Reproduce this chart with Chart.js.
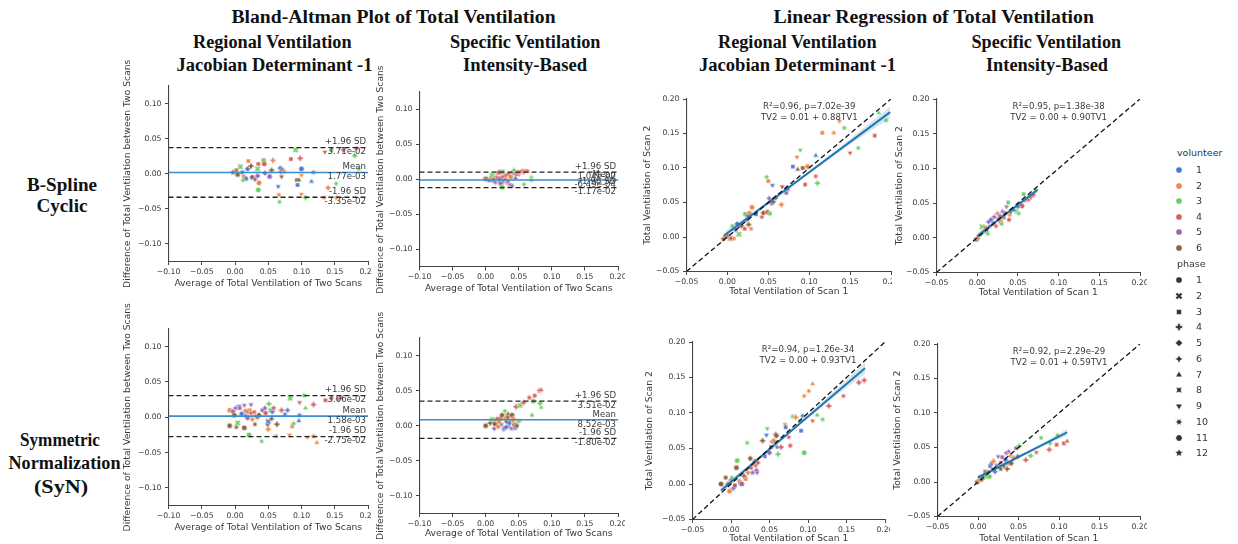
<!DOCTYPE html>
<html><head><meta charset="utf-8">
<script src="https://cdn.jsdelivr.net/npm/chart.js@4/dist/chart.umd.min.js"></script>
<style>
html,body{margin:0;padding:0;background:#fff;width:1238px;height:544px;overflow:hidden;position:relative;}
.wrap{position:absolute;overflow:hidden;}
.wrap canvas{position:absolute;}
.ttl{position:absolute;font-family:"Liberation Serif","Times New Roman",serif;font-weight:bold;font-size:18px;color:#111;white-space:nowrap;line-height:1;}
.leg{position:absolute;font-family:"DejaVu Sans",sans-serif;font-size:9.5px;color:#333;line-height:1;white-space:nowrap;}
.legm{position:absolute;}
</style></head><body>
<script>
// ---------------- DATA ----------------
const palette = ['#4878d0','#ee854a','#6acc64','#d65f5f','#956cb4','#8c613c'];
const volunteerLabels = ['1','2','3','4','5','6'];
const phaseLabels = ['1','2','3','4','5','6','7','8','9','10','11','12'];

const baXTicks = [-0.10,-0.05,0.00,0.05,0.10,0.15,0.20];
const baYTicks = [-0.10,-0.05,0.00,0.05,0.10];
const lrTicks  = [-0.05,0.00,0.05,0.10,0.15,0.20];
const identityLine = [-0.05, 0.20];

// Bland-Altman statistics: [B-Spline regional, B-Spline specific, SyN regional, SyN specific]
const baMean  = [0.00177, -0.000649, 0.00158, 0.00852];
const baUpper = [0.0371, 0.0104, 0.0306, 0.0351];
const baLower = [-0.0335, -0.0117, -0.0275, -0.0180];

// Regression statistics: [B-Spline regional, B-Spline specific, SyN regional, SyN specific]
const lrStatR  = ['R\u00b2=0.96, p=7.02e-39','R\u00b2=0.95, p=1.38e-38','R\u00b2=0.94, p=1.26e-34','R\u00b2=0.92, p=2.29e-29'];
const lrStatEq = ['TV2 = 0.01 + 0.88TV1','TV2 = 0.00 + 0.90TV1','TV2 = 0.00 + 0.93TV1','TV2 = 0.01 + 0.59TV1'];
const lrRegX = [[-0.002,0.199],[0.000,0.074],[-0.013,0.174],[0.000,0.110]];
const lrRegY = [[0.004,0.181],[0.0025,0.069],[-0.009,0.163],[0.0065,0.072]];
const lrBandX  = [[-0.002,0.05,0.10,0.15,0.199],[0.000,0.037,0.074],[-0.013,0.04,0.08,0.13,0.174],[0.000,0.04,0.08,0.110]];
const lrBandHi = [[0.009,0.052,0.096,0.142,0.189],[0.005,0.037,0.071],[-0.004,0.042,0.079,0.127,0.171],[0.0095,0.032,0.056,0.077]];
const lrBandLo = [[-0.001,0.047,0.092,0.134,0.172],[-0.001,0.034,0.066],[-0.014,0.038,0.075,0.119,0.155],[0.0035,0.028,0.052,0.067]];

// Panel: Bland-Altman, B-Spline Cyclic, Regional Ventilation
const baBsRegX = [-0.003,0.002,0.004,0.008,0.011,0.013,0.016,0.012,0.019,0.020,0.024,0.026,0.030,0.034,0.034,0.035,0.035,0.036,0.043,0.044,0.045,0.052,0.055,0.057,0.065,0.066,0.067,0.068,0.069,0.070,0.071,0.074,0.084,0.091,0.093,0.094,0.096,0.098,0.100,0.100,0.100,0.106,0.115,0.118,0.134,0.135,0.140,0.145,0.152,0.153,0.163,0.180,0.183,0.186];
const baBsRegY = [0.002,0.005,-0.001,0.010,0.002,-0.004,-0.007,-0.009,0.007,0.018,0.011,-0.005,-0.008,-0.003,0.007,0.014,-0.023,-0.013,0.019,0.014,0.001,-0.004,0.005,0.019,-0.018,-0.030,-0.040,0.008,0.003,-0.004,0.006,0.003,0.021,0.034,-0.009,-0.016,-0.009,0.022,0.007,-0.002,-0.029,-0.034,-0.011,0.002,-0.034,0.031,-0.020,0.034,-0.014,-0.034,0.034,0.026,0.036,0.007];
const baBsRegVol = [6,4,6,3,1,2,1,3,1,2,6,6,5,5,3,4,3,2,3,4,5,5,6,2,1,2,3,5,4,6,1,2,4,3,6,1,6,4,1,2,2,3,1,1,2,4,2,3,3,2,4,3,4,3];
const baBsRegPhase = [12,3,1,2,3,3,11,10,5,3,4,1,6,5,2,3,11,11,11,11,5,11,4,4,9,10,10,5,6,9,6,10,3,2,3,3,7,4,11,9,9,4,7,10,10,9,4,3,10,12,12,5,10,10];

// Panel: Bland-Altman, B-Spline Cyclic, Specific Ventilation
const baBsSpecX = [0.000,0.003,0.006,0.008,0.010,0.012,0.013,0.015,0.016,0.018,0.020,0.022,0.023,0.025,0.025,0.026,0.028,0.030,0.031,0.032,0.034,0.035,0.037,0.038,0.040,0.042,0.043,0.045,0.045,0.048,0.050,0.052,0.055,0.058,0.060,0.058,0.063,0.069,0.069,0.020];
const baBsSpecY = [0.001,0.000,-0.001,0.003,0.006,-0.002,0.001,-0.004,0.004,0.002,-0.003,0.001,-0.006,0.011,-0.011,0.004,-0.002,0.000,0.006,-0.005,-0.003,0.008,-0.008,0.004,-0.009,0.010,0.013,0.002,0.009,0.008,0.011,0.010,0.012,0.011,0.012,-0.007,0.012,0.003,-0.001,0.010];
const baBsSpecVol = [6,6,1,2,3,5,6,5,2,4,2,1,5,3,3,4,5,6,4,2,5,4,5,2,5,6,3,1,4,4,4,4,4,4,4,3,2,3,3,4];
const baBsSpecPhase = [1,12,3,3,2,5,4,6,4,3,10,5,11,2,11,4,5,9,6,9,7,12,3,11,10,4,4,7,9,2,3,10,12,4,7,10,3,10,7,1];

// Panel: Bland-Altman, SyN, Regional Ventilation
const baSynRegX = [-0.008,-0.008,-0.003,-0.001,0.001,0.006,0.007,0.010,0.002,0.004,0.014,0.014,0.016,0.016,0.019,0.020,0.021,0.022,0.024,0.024,0.026,0.029,0.030,0.031,0.034,0.036,0.040,0.041,0.045,0.046,0.049,0.050,0.050,0.051,0.053,0.055,0.056,0.058,0.062,0.063,0.070,0.075,0.079,0.082,0.083,0.086,0.088,0.097,0.097,0.096,0.104,0.106,0.109,0.118,0.118,0.123,0.136,0.145,0.155,0.159];
const baSynRegY = [0.010,-0.012,0.008,0.003,0.013,0.016,0.013,0.005,-0.014,-0.008,-0.015,0.017,0.009,0.002,-0.001,0.008,-0.025,0.010,0.018,0.006,-0.003,0.007,-0.010,0.002,0.000,0.003,-0.034,0.010,0.013,0.006,-0.011,-0.006,-0.017,0.019,0.010,-0.002,0.008,0.013,-0.027,-0.010,0.010,0.004,0.010,-0.025,0.027,-0.013,-0.009,0.021,0.003,-0.005,0.031,0.013,-0.028,0.018,-0.027,-0.036,0.024,0.027,0.026,0.027];
const baSynRegVol = [2,6,5,6,5,5,5,1,6,3,6,5,2,1,5,6,3,2,5,4,2,4,6,2,6,6,3,5,5,4,6,1,2,3,3,6,1,4,3,6,4,1,1,2,3,2,3,4,1,1,3,3,2,4,2,2,4,4,4,4];
const baSynRegPhase = [1,11,5,1,6,9,3,5,10,2,11,9,1,6,5,4,11,3,9,10,12,3,10,4,6,5,10,3,6,5,9,2,4,4,3,6,4,12,10,4,4,10,6,9,2,3,6,9,10,7,3,7,9,4,12,7,3,12,10,7];

// Panel: Bland-Altman, SyN, Specific Ventilation
const baSynSpecX = [0.000,0.007,0.010,0.013,0.014,0.016,0.019,0.022,0.024,0.025,0.027,0.029,0.030,0.032,0.034,0.035,0.037,0.038,0.039,0.040,0.042,0.043,0.044,0.046,0.048,0.051,0.052,0.057,0.066,0.070,0.072,0.074,0.081,0.084,0.084,0.082,0.020,0.028,0.033,0.036,0.041,0.018,0.045,0.031,0.047];
const baSynSpecY = [0.000,0.004,0.009,-0.004,0.003,0.008,-0.001,0.010,0.002,0.015,-0.005,0.021,0.011,0.006,0.016,-0.001,0.008,0.014,-0.004,0.015,0.010,0.002,-0.004,0.027,0.005,0.007,0.029,0.033,0.040,0.015,0.035,0.043,0.050,0.026,0.051,0.032,0.006,-0.003,0.012,0.004,0.007,0.010,-0.002,-0.002,0.000];
const baSynSpecVol = [6,6,3,5,6,2,2,6,5,6,5,3,2,6,6,5,2,6,5,6,2,6,5,4,2,3,3,4,4,3,3,4,4,3,4,3,2,5,6,1,2,4,5,1,6];
const baSynSpecPhase = [11,4,2,6,11,3,5,4,9,11,6,10,3,5,4,12,3,6,10,11,12,3,7,4,10,10,2,4,12,10,11,3,12,7,7,4,1,3,10,3,9,3,5,6,12];

// Panel: Linear regression, B-Spline Cyclic, Regional Ventilation (scan 1, scan 2)
const lrBsRegX = [-0.005,-0.002,0.001,0.003,0.005,0.006,0.008,0.010,0.012,0.014,0.017,0.021,0.022,0.024,0.025,0.026,0.027,0.029,0.030,0.035,0.042,0.044,0.048,0.049,0.050,0.051,0.052,0.054,0.055,0.056,0.059,0.066,0.067,0.072,0.073,0.074,0.080,0.085,0.086,0.089,0.092,0.095,0.098,0.108,0.108,0.110,0.116,0.130,0.137,0.143,0.150,0.160,0.180,0.185,0.194];
const lrBsRegY = [-0.003,0.002,0.001,-0.002,-0.002,0.016,-0.002,0.010,0.019,0.004,0.016,0.012,0.033,0.025,0.031,0.018,0.035,0.012,0.043,0.033,0.029,0.035,0.087,0.036,0.081,0.056,0.034,0.049,0.075,0.051,0.057,0.047,0.073,0.064,0.071,0.069,0.102,0.116,0.098,0.126,0.100,0.076,0.102,0.118,0.088,0.078,0.151,0.151,0.168,0.158,0.122,0.129,0.147,0.180,0.169];
const lrBsRegVol = [6,6,5,2,6,3,2,5,1,3,6,4,3,5,5,6,2,2,2,1,4,6,3,4,2,5,3,5,1,6,5,2,6,5,5,5,1,2,6,3,6,4,2,1,4,3,2,2,2,3,4,3,4,3,3];
const lrBsRegPhase = [12,1,5,2,3,10,8,6,5,2,4,3,11,6,5,4,3,10,11,3,10,5,10,11,3,6,3,5,9,4,5,4,9,3,5,7,3,9,7,9,3,3,11,7,10,4,3,10,9,10,9,10,3,7,10];

// Panel: Linear regression, B-Spline Cyclic, Specific Ventilation
const lrBsSpecX = [-0.001,0.001,0.004,0.006,0.008,0.010,0.011,0.013,0.014,0.016,0.017,0.020,0.021,0.023,0.025,0.026,0.028,0.029,0.030,0.031,0.033,0.034,0.036,0.038,0.039,0.040,0.041,0.048,0.051,0.055,0.057,0.059,0.063,0.066,0.069,0.072,0.050,0.045];
const lrBsSpecY = [-0.002,0.000,0.005,0.016,0.009,0.015,0.010,0.006,0.023,0.017,0.026,0.021,0.030,0.017,0.035,0.027,0.031,0.023,0.020,0.038,0.029,0.035,0.045,0.051,0.026,0.033,0.038,0.038,0.035,0.046,0.063,0.054,0.055,0.059,0.062,0.069,0.045,0.040];
const lrBsSpecVol = [6,2,3,3,2,2,1,3,1,2,5,1,5,4,2,6,5,2,3,5,2,5,5,3,4,2,6,3,3,4,3,2,4,4,4,3,1,1];
const lrBsSpecPhase = [1,3,10,2,4,3,5,10,6,9,5,3,6,10,4,9,3,11,10,7,3,5,9,3,12,10,4,4,10,11,3,12,10,4,12,10,6,7];

// Panel: Linear regression, SyN, Regional Ventilation
const lrSynRegX = [-0.013,-0.007,-0.004,-0.002,0.000,0.001,0.003,0.005,0.007,0.008,0.011,0.012,0.014,0.017,0.019,0.021,0.022,0.025,0.026,0.028,0.029,0.031,0.032,0.033,0.034,0.035,0.041,0.044,0.046,0.047,0.050,0.052,0.054,0.056,0.058,0.059,0.060,0.061,0.065,0.070,0.071,0.075,0.077,0.080,0.084,0.090,0.091,0.093,0.095,0.095,0.101,0.106,0.106,0.112,0.119,0.127,0.146,0.166,0.173];
const lrSynRegY = [0.000,0.009,0.000,-0.010,0.006,0.009,-0.006,-0.002,0.023,0.033,0.004,0.001,0.000,0.011,0.007,0.058,0.016,0.036,0.023,0.016,0.028,0.032,0.026,0.019,0.016,0.030,0.061,0.039,0.069,0.078,0.044,0.052,0.060,0.061,0.070,0.068,0.052,0.042,0.052,0.084,0.080,0.066,0.054,0.095,0.094,0.089,0.075,0.096,0.044,0.124,0.131,0.089,0.141,0.097,0.091,0.110,0.124,0.143,0.146];
const lrSynRegVol = [6,6,2,2,5,3,5,6,6,3,2,5,5,6,2,3,2,6,4,5,2,6,4,5,5,4,6,5,1,3,5,6,6,2,6,6,1,3,4,2,1,4,4,3,2,3,1,1,3,2,2,4,2,3,3,4,4,4,4];
const lrSynRegPhase = [11,3,5,11,6,10,4,3,11,11,5,3,11,4,3,10,4,5,3,12,4,6,10,5,9,6,4,3,9,9,5,3,4,4,6,5,10,4,4,9,3,10,12,10,4,3,3,10,11,10,10,9,7,7,10,4,10,4,4];

// Panel: Linear regression, SyN, Specific Ventilation
const lrSynSpecX = [-0.001,0.001,0.003,0.005,0.008,0.009,0.010,0.012,0.014,0.015,0.017,0.018,0.019,0.021,0.023,0.025,0.028,0.028,0.030,0.032,0.034,0.035,0.036,0.037,0.038,0.040,0.041,0.044,0.047,0.049,0.051,0.059,0.065,0.072,0.078,0.088,0.089,0.097,0.098,0.106,0.110];
const lrSynSpecY = [0.000,0.002,0.007,0.004,0.009,0.015,0.008,0.014,0.008,0.023,0.027,0.019,0.030,0.015,0.024,0.037,0.028,0.019,0.036,0.023,0.032,0.042,0.019,0.027,0.044,0.038,0.027,0.035,0.049,0.037,0.052,0.032,0.038,0.043,0.064,0.047,0.056,0.054,0.068,0.056,0.059];
const lrSynSpecVol = [6,2,3,6,2,6,3,2,3,1,5,6,2,1,1,5,2,6,5,6,1,5,6,2,5,2,6,2,5,6,3,4,3,4,3,4,3,4,3,4,4];
const lrSynSpecPhase = [1,3,10,4,5,3,2,4,11,3,5,9,4,6,10,9,3,12,3,10,5,6,4,3,7,10,5,4,3,6,4,4,4,9,10,4,10,3,7,3,7];

// ---------------- MARKERS ----------------
function polyPath(g, pts){ g.beginPath(); pts.forEach((p,i)=> i ? g.lineTo(p[0],p[1]) : g.moveTo(p[0],p[1])); g.closePath(); }
function regPts(n, r, rot){ const a0=-Math.PI/2 - rot*Math.PI/180; const o=[]; for(let i=0;i<n;i++){const a=a0+i*2*Math.PI/n; o.push([r*Math.cos(a), r*Math.sin(a)]);} return o; }
function starPts(n, r, inner, rot){ const a0=-Math.PI/2 - rot*Math.PI/180; const o=[]; for(let i=0;i<2*n;i++){const a=a0+i*Math.PI/n; const rr=i%2? r*inner : r; o.push([rr*Math.cos(a), rr*Math.sin(a)]);} return o; }
function plusPts(r, a, rot){ const p=[[-a,-r],[a,-r],[a,-a],[r,-a],[r,a],[a,a],[a,r],[-a,r],[-a,a],[-r,a],[-r,-a],[-a,-a]]; const c=Math.cos(rot), s=Math.sin(rot); return p.map(([x,y])=>[x*c-y*s, x*s+y*c]); }
function markerPath(g, phase, r){
  switch(phase){
    case 1: g.beginPath(); g.arc(0,0,r,0,Math.PI*2); break;
    case 2: polyPath(g, plusPts(r*1.2, r*0.4, Math.PI/4)); break;
    case 3: polyPath(g, regPts(4, r*1.1, 45)); break;
    case 4: polyPath(g, plusPts(r*1.1, r*0.4, 0)); break;
    case 5: polyPath(g, regPts(4, r*1.15, 0)); break;
    case 6: polyPath(g, starPts(4, r*1.25, 0.5, 0)); break;
    case 7: polyPath(g, regPts(3, r*1.2, 0)); break;
    case 8: polyPath(g, starPts(4, r*1.25, 0.5, 45)); break;
    case 9: polyPath(g, regPts(3, r*1.2, 180)); break;
    case 10: polyPath(g, starPts(6, r*1.2, 0.5, 30)); break;
    case 11: polyPath(g, regPts(6, r*1.1, 30)); break;
    default: polyPath(g, starPts(5, r*1.3, 0.5, 0)); break;
  }
}
const mcache = {};
function markerImg(phase, color, r){
  const k = phase+'|'+color+'|'+r;
  if (mcache[k]) return mcache[k];
  const s = Math.ceil(r*1.4)*2 + 2;
  const c = document.createElement('canvas'); c.width = s; c.height = s;
  const g = c.getContext('2d'); g.translate(s/2, s/2);
  markerPath(g, phase, r);
  g.fillStyle = color; g.fill();
  g.lineWidth = 0.5; g.strokeStyle = 'rgba(255,255,255,0.85)'; g.stroke();
  mcache[k] = c; return c;
}

// ---------------- HELPERS ----------------
const FONT = "'DejaVu Sans', sans-serif";
const TXT = '#3a3a3a';
const AXC = '#444';
function fmtTick(v){ return (v < -1e-9 ? '\u2212' : '') + Math.abs(v).toFixed(2); }
function sci(v){ const parts = v.toExponential(2).split('e'); const e = parseInt(parts[1],10); return parts[0] + 'e' + (e<0?'-':'+') + String(Math.abs(e)).padStart(2,'0'); }
function pts(X, Y){ return X.map((x,i)=>({x:x, y:Y[i]})); }

function scatterSet(X, Y, V, P){
  return {type:'scatter', data: pts(X,Y), order: 5, pointRadius: 3,
    pointStyle: ctx => markerImg(P[ctx.dataIndex] || 1, palette[(V[ctx.dataIndex] || 1) - 1], 2.6)};
}
function baDatasets(i, X, Y, V, P){
  const xr = [baXTicks[0], baXTicks[baXTicks.length-1]];
  return [
    {type:'line', data:[{x:xr[0],y:baUpper[i]},{x:xr[1],y:baUpper[i]}], borderColor:'#222', borderWidth:1.3, borderDash:[5,3], pointRadius:0, order:0},
    {type:'line', data:[{x:xr[0],y:baLower[i]},{x:xr[1],y:baLower[i]}], borderColor:'#222', borderWidth:1.3, borderDash:[5,3], pointRadius:0, order:0},
    {type:'line', data:[{x:xr[0],y:baMean[i]},{x:xr[1],y:baMean[i]}], borderColor:'#3a8dd0', borderWidth:1.6, pointRadius:0, order:1},
    scatterSet(X, Y, V, P)
  ];
}
function lrDatasets(i, X, Y, V, P){
  return [
    {type:'line', data: identityLine.map(v=>({x:v,y:v})), borderColor:'#111', borderWidth:1.3, borderDash:[5,3], pointRadius:0, order:0},
    {type:'line', data: pts(lrRegX[i], lrRegY[i]), borderColor:'#1f77b4', borderWidth:2, pointRadius:0, order:1},
    {type:'line', data: pts(lrBandX[i], lrBandHi[i]), borderWidth:0, borderColor:'rgba(0,0,0,0)', pointRadius:0, fill:'+1', backgroundColor:'rgba(31,119,180,0.18)', tension:0.3, order:2},
    {type:'line', data: pts(lrBandX[i], lrBandLo[i]), borderWidth:0, borderColor:'rgba(0,0,0,0)', pointRadius:0, fill:false, tension:0.3, order:2},
    scatterSet(X, Y, V, P)
  ];
}
function baAnno(i){
  return c => {
    const g = c.ctx, a = c.chartArea, y = c.scales.y;
    g.save(); g.font = '8.6px ' + FONT; g.fillStyle = TXT; g.textAlign = 'right'; g.textBaseline = 'middle';
    const xr = a.right - 2;
    [[baUpper[i],'+1.96 SD'],[baMean[i],'Mean'],[baLower[i],'-1.96 SD']].forEach(([v,lab]) => {
      const py = y.getPixelForValue(v);
      g.fillText(lab, xr, py - 5.5);
      g.fillText(sci(v), xr, py + 4.5);
    });
    g.restore();
  };
}
function lrAnno(i){
  return c => {
    const g = c.ctx, a = c.chartArea, x = c.scales.x;
    g.save(); g.font = '8.6px ' + FONT; g.fillStyle = TXT; g.textAlign = 'center'; g.textBaseline = 'middle';
    const cx = x.getPixelForValue(0.10);
    g.fillText(lrStatR[i], cx, a.top + 8);
    g.fillText(lrStatEq[i], cx, a.top + 18.5);
    g.restore();
  };
}

function buildChart(p){
  const pt = p.pt, pr = 14;
  let cw = p.YW + p.W + pr, ch = pt + p.H + p.XH;
  const wrap = document.createElement('div'); wrap.className = 'wrap';
  wrap.style.left = p.clip[0]+'px'; wrap.style.top = p.clip[1]+'px';
  wrap.style.width = (p.clip[2]-p.clip[0])+'px'; wrap.style.height = (p.clip[3]-p.clip[1])+'px';
  document.body.appendChild(wrap);
  const axis = (min, max, ticks, title, isX) => ({
    type:'linear', min:min, max:max,
    afterBuildTicks: s => { s.ticks = ticks.map(v => ({value:v})); },
    afterFit: s => { if (isX) s.height = p.XH; else s.width = p.YW; },
    ticks: {callback: v => fmtTick(v), font:{family:FONT, size:7.7}, color:TXT, padding: isX ? 2 : 3.5, maxRotation:0, autoSkip:false},
    grid: {display:true, drawOnChartArea:false, drawTicks:true, tickLength:3.5, color:AXC, lineWidth:1},
    border: {display:true, color:AXC, width:1.1},
    title: {display:true, text:title, font:{family:FONT, size:9.2}, color:TXT, padding:0}
  });
  const cfg = () => ({
    type:'scatter',
    data:{datasets: p.datasets()},
    options:{responsive:false, maintainAspectRatio:false, animation:false, devicePixelRatio:1, events:[],
      layout:{padding:{left:0, top:pt, right:pr, bottom:0}},
      plugins:{legend:{display:false}, tooltip:{enabled:false}},
      scales:{x: axis(p.xr[0], p.xr[1], p.xt, p.xTitle, true), y: axis(p.yr[0], p.yr[1], p.yt, p.yTitle, false)}
    },
    plugins:[{id:'anno'+p.id, afterDatasetsDraw: c => p.anno(c)}]
  });
  for (let pass = 0; pass < 3; pass++){
    const cv = document.createElement('canvas');
    cv.width = Math.round(cw); cv.height = Math.round(ch);
    cv.style.width = cv.width+'px'; cv.style.height = cv.height+'px';
    wrap.appendChild(cv);
    const chart = new Chart(cv, cfg());
    const ca = chart.chartArea;
    const dw = p.W - (ca.right - ca.left), dh = p.H - (ca.bottom - ca.top);
    if (pass < 2 && (Math.abs(dw) > 0.6 || Math.abs(dh) > 0.6)) {
      chart.destroy(); wrap.removeChild(cv); cw += dw; ch += dh; continue;
    }
    cv.style.left = Math.round(p.L - ca.left - p.clip[0]) + 'px';
    cv.style.top = Math.round(p.T - ca.top - p.clip[1]) + 'px';
    break;
  }
}

// ---------------- TITLES ----------------
const titles = [
  ['Bland-Altman Plot of Total Ventilation', 393, 17, 324],
  ['Linear Regression of Total Ventilation', 933, 17, 320],
  ['Regional Ventilation', 272, 42, 159],
  ['Jacobian Determinant -1', 274, 65, 196],
  ['Specific Ventilation', 525, 42, 151],
  ['Intensity-Based', 525, 65, 124],
  ['Regional Ventilation', 797, 42, 159],
  ['Jacobian Determinant -1', 797, 65, 197],
  ['Specific Ventilation', 1046, 42, 150],
  ['Intensity-Based', 1047, 65, 122],
  ['B-Spline', 62, 185, 70],
  ['Cyclic', 62, 206, 51],
  ['Symmetric', 60, 440, 80],
  ['Normalization', 64, 463, 112],
  ['(SyN)', 61, 487, 54]
];
titles.forEach(([t, cx, cy, w]) => {
  const d = document.createElement('div'); d.className = 'ttl'; d.textContent = t;
  document.body.appendChild(d);
  const ow = d.offsetWidth, oh = d.offsetHeight;
  const k = w / ow;
  d.style.left = (cx - ow/2) + 'px'; d.style.top = (cy - oh/2) + 'px';
  d.style.transform = 'scaleX(' + k.toFixed(3) + ')';
});

// ---------------- PANELS ----------------
const baYT = 'Difference of Total Ventilation between Two Scans';
const baXT = 'Average of Total Ventilation of Two Scans';
const lrYT = 'Total Ventilation of Scan 2';
const lrXT = 'Total Ventilation of Scan 1';
const baXR = [baXTicks[0], baXTicks[baXTicks.length-1]];
const baYR = [-0.125, 0.125];
const lrR = [lrTicks[0], lrTicks[lrTicks.length-1]];

const panels = [
  {id:1, L:168, T:86, W:199, H:175.5, YW:46.5, XH:27.5, pt:40, clip:[100,40,371,300], xr:baXR, yr:baYR, xt:baXTicks, yt:baYTicks, xTitle:baXT, yTitle:baYT,
   datasets:()=>baDatasets(0, baBsRegX, baBsRegY, baBsRegVol, baBsRegPhase), anno:baAnno(0)},
  {id:2, L:419, T:91.5, W:198, H:175, YW:44.5, XH:27, pt:40, clip:[360,40,625,300], xr:baXR, yr:baYR, xt:baXTicks, yt:baYTicks, xTitle:baXT, yTitle:baYT,
   datasets:()=>baDatasets(1, baBsSpecX, baBsSpecY, baBsSpecVol, baBsSpecPhase), anno:baAnno(1)},
  {id:3, L:686, T:99.3, W:204, H:172.7, YW:44.5, XH:25.5, pt:10, clip:[630,80,892,305], xr:lrR, yr:lrR, xt:lrTicks, yt:lrTicks, xTitle:lrXT, yTitle:lrYT,
   datasets:()=>lrDatasets(0, lrBsRegX, lrBsRegY, lrBsRegVol, lrBsRegPhase), anno:lrAnno(0)},
  {id:4, L:936, T:99, W:203, H:173, YW:42.5, XH:25.5, pt:10, clip:[880,80,1147,305], xr:lrR, yr:lrR, xt:lrTicks, yt:lrTicks, xTitle:lrXT, yTitle:lrYT,
   datasets:()=>lrDatasets(1, lrBsSpecX, lrBsSpecY, lrBsSpecVol, lrBsSpecPhase), anno:lrAnno(1)},
  {id:5, L:168, T:328.5, W:199, H:176.5, YW:46.5, XH:27.5, pt:40, clip:[100,298,371,544], xr:baXR, yr:baYR, xt:baXTicks, yt:baYTicks, xTitle:baXT, yTitle:baYT,
   datasets:()=>baDatasets(2, baSynRegX, baSynRegY, baSynRegVol, baSynRegPhase), anno:baAnno(2)},
  {id:6, L:419, T:338.2, W:198, H:175, YW:44.5, XH:25.5, pt:40, clip:[360,298,625,544], xr:baXR, yr:baYR, xt:baXTicks, yt:baYTicks, xTitle:baXT, yTitle:baYT,
   datasets:()=>baDatasets(3, baSynSpecX, baSynSpecY, baSynSpecVol, baSynSpecPhase), anno:baAnno(3)},
  {id:7, L:692, T:341.7, W:192, H:177.3, YW:48.5, XH:24.5, pt:10, clip:[630,315,890,544], xr:lrR, yr:lrR, xt:lrTicks, yt:lrTicks, xTitle:lrXT, yTitle:lrYT,
   datasets:()=>lrDatasets(2, lrSynRegX, lrSynRegY, lrSynRegVol, lrSynRegPhase), anno:lrAnno(2)},
  {id:8, L:937, T:344, W:202, H:172, YW:45.5, XH:27.5, pt:10, clip:[880,315,1147,544], xr:lrR, yr:lrR, xt:lrTicks, yt:lrTicks, xTitle:lrXT, yTitle:lrYT,
   datasets:()=>lrDatasets(3, lrSynSpecX, lrSynSpecY, lrSynSpecVol, lrSynSpecPhase), anno:lrAnno(3)}
];
panels.forEach(buildChart);

// ---------------- LEGEND ----------------
function legText(t, x, cy){
  const d = document.createElement('div'); d.className = 'leg'; d.textContent = t;
  document.body.appendChild(d);
  d.style.left = x + 'px'; d.style.top = (cy - d.offsetHeight/2) + 'px';
}
function legMarker(phase, color, cx, cy){
  const img = markerImg(phase, color, 3.1);
  const c = document.createElement('canvas'); c.width = img.width; c.height = img.height; c.className = 'legm';
  c.getContext('2d').drawImage(img, 0, 0);
  c.style.left = (cx - img.width/2) + 'px'; c.style.top = (cy - img.height/2) + 'px';
  document.body.appendChild(c);
}
legText('volunteer', 1177, 153);
volunteerLabels.forEach((t, i) => { const cy = 170 + 15.6*i; legMarker(1, palette[i], 1179, cy); legText(t, 1196, cy); });
legText('phase', 1177, 264);
phaseLabels.forEach((t, i) => { const cy = 280 + 15.75*i; legMarker(i+1, '#333', 1179, cy); legText(t, 1196, cy); });
</script>
</body></html>
